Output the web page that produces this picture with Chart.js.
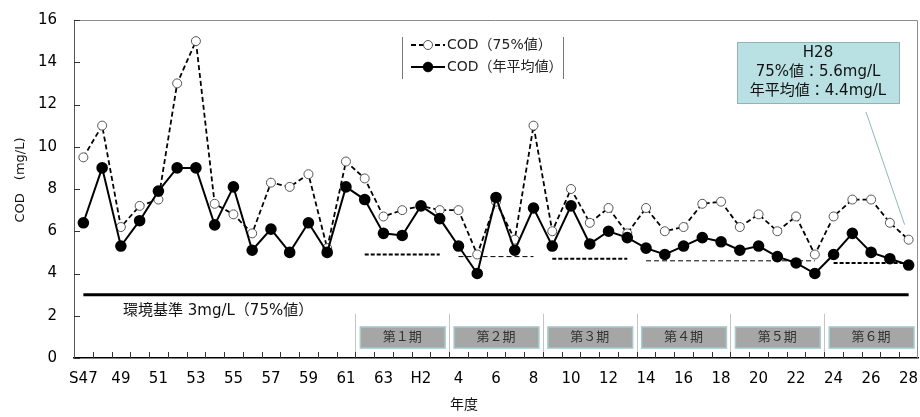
<!DOCTYPE html>
<html>
<head>
<meta charset="utf-8">
<script src="https://cdn.jsdelivr.net/npm/chart.js@4/dist/chart.umd.min.js"></script>
<style>
  body { margin: 0; background: #fff; }
</style>
</head>
<body>
<canvas id="myGraph" width="920" height="417"></canvas>
<script>
// COD推移 S47〜H28

var years = ["S47", "48", "49", "50", "51", "52", "53", "54", "55", "56", "57", "58", "59", "60", "61", "62", "63",
  "H1", "H2", "3", "4", "5", "6", "7", "8", "9", "10", "11", "12", "13", "14", "15", "16", "17", "18", "19", "20",
  "21", "22", "23", "24", "25", "26", "27", "28"];

var cod75 = [9.5, 11.0, 6.2, 7.2, 7.5, 13.0, 15.0, 7.3, 6.8, 5.9, 8.3, 8.1, 8.7, 5.2, 9.3, 8.5, 6.7,
  7.0, 7.2, 7.0, 7.0, 4.9, 7.4, 5.6, 11.0, 6.0, 8.0, 6.4, 7.1, 5.9, 7.1, 6.0, 6.2, 7.3, 7.4, 6.2, 6.8,
  6.0, 6.7, 4.9, 6.7, 7.5, 7.5, 6.4, 5.6];

var codMean = [6.4, 9.0, 5.3, 6.5, 7.9, 9.0, 9.0, 6.3, 8.1, 5.1, 6.1, 5.0, 6.4, 5.0, 8.1, 7.5, 5.9,
  5.8, 7.2, 6.6, 5.3, 4.0, 7.6, 5.1, 7.1, 5.3, 7.2, 5.4, 6.0, 5.7, 5.2, 4.9, 5.3, 5.7, 5.5, 5.1, 5.3,
  4.8, 4.5, 4.0, 4.9, 5.9, 5.0, 4.7, 4.4];

var envStandard = 3;

// 計画期間
var periodNames = ["第１期", "第２期", "第３期", "第４期", "第５期", "第６期"];
var periodStart = [15, 20, 25, 30, 35, 40];
var periodEnd = [19, 24, 29, 34, 39, 44];

// 目標値（破線）
var targetFrom = [15, 20, 25, 30, 40];
var targetTo = [19, 24, 29, 39, 44];
var targetValue = [4.9, 4.8, 4.7, 4.6, 4.5];
var targetThick = [true, false, true, false, true];

var yTicks = [0, 2, 4, 6, 8, 10, 12, 14, 16];

var numFont = "DejaVu Sans, 'Noto Sans CJK JP', sans-serif";

var datasets = [
  {
    label: "COD（年平均値）",
    data: codMean,
    borderColor: "#000",
    borderWidth: 2,
    pointRadius: 4.8,
    pointBackgroundColor: "#000",
    pointBorderColor: "#000",
    tension: 0
  },
  {
    label: "COD（75%値）",
    data: cod75,
    borderColor: "#000",
    borderWidth: 1.8,
    borderDash: [5, 3],
    pointRadius: 4.5,
    pointBackgroundColor: "#fff",
    pointBorderColor: "#555",
    pointBorderWidth: 1,
    tension: 0
  },
  {
    label: "env",
    data: years.map(function () { return envStandard; }),
    borderColor: "#000",
    borderWidth: 3,
    pointRadius: 0
  }
];

for (var t = 0; t < targetValue.length; t++) {
  var d = years.map(function (y, i) {
    return (i >= targetFrom[t] && i <= targetTo[t]) ? targetValue[t] : null;
  });
  datasets.push({
    label: "target" + t,
    data: d,
    borderColor: "#000",
    borderWidth: targetThick[t] ? 2 : 1,
    borderDash: targetThick[t] ? [4, 2] : [5, 3],
    pointRadius: 0,
    spanGaps: false
  });
}

var extras = {
  id: "extras",
  beforeDatasetsDraw: function (chart) {
    var ctx = chart.ctx;
    var x = chart.scales.x, y = chart.scales.y;
    var half = (x.getPixelForValue(1) - x.getPixelForValue(0)) / 2;
    ctx.save();
    // 期間の区切り線とラベル
    for (var p = 0; p < periodNames.length; p++) {
      var left = x.getPixelForValue(periodStart[p]) - half;
      var right = Math.min(x.getPixelForValue(periodEnd[p]) + half, chart.chartArea.right);
      ctx.strokeStyle = "#c4c4c4";
      ctx.lineWidth = 1;
      ctx.beginPath();
      ctx.moveTo(Math.round(left) + 0.5, y.getPixelForValue(2.1));
      ctx.lineTo(Math.round(left) + 0.5, y.bottom);
      ctx.stroke();
      var top = y.getPixelForValue(1.47), bot = y.getPixelForValue(0.47);
      ctx.fillStyle = "#a6a6a6";
      ctx.fillRect(left + 5, top, right - left - 9, bot - top);
      ctx.strokeStyle = "#a3cbd0";
      ctx.lineWidth = 1.5;
      ctx.strokeRect(left + 5, top, right - left - 9, bot - top);
      ctx.fillStyle = "#333";
      ctx.font = "13px " + numFont;
      ctx.textAlign = "center";
      ctx.textBaseline = "middle";
      ctx.fillText(periodNames[p], (left + right) / 2, (top + bot) / 2);
    }
    // 環境基準ラベル
    ctx.fillStyle = "#111";
    ctx.font = "15px " + numFont;
    ctx.textAlign = "left";
    ctx.fillText("環境基準 3mg/L（75%値）", 123, y.getPixelForValue(2.2));
    ctx.restore();
  },
  afterDraw: function (chart) {
    var ctx = chart.ctx;
    var x = chart.scales.x, y = chart.scales.y;
    var a = chart.chartArea;
    var half = (x.getPixelForValue(1) - x.getPixelForValue(0)) / 2;
    ctx.save();
    // 上・右の枠
    ctx.strokeStyle = "#8c8c8c";
    ctx.lineWidth = 1;
    ctx.beginPath();
    ctx.moveTo(a.left, a.top + 0.5);
    ctx.lineTo(a.right - 0.5, a.top + 0.5);
    ctx.lineTo(a.right - 0.5, a.bottom);
    ctx.stroke();
    // 内向き目盛
    ctx.strokeStyle = "#333";
    ctx.beginPath();
    yTicks.forEach(function (v) {
      var py = Math.round(y.getPixelForValue(v)) + 0.5;
      ctx.moveTo(a.left, py);
      ctx.lineTo(a.left + 6, py);
    });
    for (var i = 0; i < years.length - 1; i++) {
      var px = Math.round(x.getPixelForValue(i) + half) + 0.5;
      ctx.moveTo(px, a.bottom);
      ctx.lineTo(px, a.bottom - 6);
    }
    ctx.stroke();

    // 凡例
    ctx.strokeStyle = "#777";
    ctx.lineWidth = 1;
    ctx.beginPath();
    ctx.moveTo(402.5, 37); ctx.lineTo(402.5, 79);
    ctx.moveTo(563.5, 37); ctx.lineTo(563.5, 79);
    ctx.stroke();
    var rows = [{ ds: datasets[1], y: 45 }, { ds: datasets[0], y: 67 }];
    rows.forEach(function (r) {
      ctx.strokeStyle = "#000";
      ctx.lineWidth = r.ds.borderWidth;
      ctx.setLineDash(r.ds.borderDash || []);
      ctx.beginPath();
      ctx.moveTo(411, r.y);
      ctx.lineTo(445, r.y);
      ctx.stroke();
      ctx.setLineDash([]);
      ctx.beginPath();
      ctx.arc(428, r.y, r.ds.pointRadius, 0, Math.PI * 2);
      ctx.fillStyle = r.ds.pointBackgroundColor;
      ctx.fill();
      ctx.lineWidth = 1;
      ctx.strokeStyle = r.ds.pointBorderColor;
      ctx.stroke();
      ctx.fillStyle = "#222";
      ctx.font = "14px " + numFont;
      ctx.textAlign = "left";
      ctx.textBaseline = "middle";
      ctx.fillText(r.ds.label, 447, r.y);
    });

    // H28 注記
    var last = years.length - 1;
    ctx.strokeStyle = "#8fb7bb";
    ctx.lineWidth = 1;
    ctx.beginPath();
    ctx.moveTo(866, 112);
    ctx.lineTo(x.getPixelForValue(last) - 4, y.getPixelForValue(cod75[last]) - 15);
    ctx.stroke();
    ctx.fillStyle = "#b9e0e3";
    ctx.fillRect(737, 42, 162, 61);
    ctx.strokeStyle = "#8fb3b7";
    ctx.strokeRect(737.5, 42.5, 162, 61);
    ctx.fillStyle = "#111";
    ctx.font = "15px " + numFont;
    ctx.textAlign = "center";
    ctx.textBaseline = "middle";
    ctx.fillText("H" + years[last], 818, 53);
    ctx.fillText("75%値：" + cod75[last].toFixed(1) + "mg/L", 818, 72);
    ctx.fillText("年平均値：" + codMean[last].toFixed(1) + "mg/L", 818, 91);

    // 軸タイトル
    ctx.font = "14px " + numFont;
    ctx.fillText("年度", 464, 405);
    ctx.translate(21, 180);
    ctx.rotate(-Math.PI / 2);
    ctx.font = "13px " + numFont;
    ctx.fillText("COD　(mg/L)", 0, 0);
    ctx.restore();
  }
};

new Chart(document.getElementById("myGraph").getContext("2d"), {
  type: "line",
  data: {
    labels: years,
    datasets: datasets
  },
  options: {
    responsive: false,
    animation: false,
    layout: { autoPadding: false, padding: { top: 20, right: 2, left: 0, bottom: 0 } },
    plugins: {
      legend: { display: false },
      tooltip: { enabled: false }
    },
    scales: {
      x: {
        offset: true,
        grid: { display: false, drawTicks: false },
        border: { color: "#000", width: 1.5 },
        ticks: {
          autoSkip: false,
          maxRotation: 0,
          padding: 12,
          color: "#000",
          font: { size: 15, family: numFont },
          callback: function (v, i) { return i % 2 === 0 ? years[i] : ""; }
        },
        afterFit: function (s) { s.height = 59; s.paddingLeft = 0; s.paddingRight = 0; }
      },
      y: {
        min: 0,
        max: 16,
        grid: { display: false, drawTicks: false },
        border: { color: "#555", width: 1 },
        ticks: {
          stepSize: 2,
          padding: 17,
          color: "#000",
          font: { size: 15, family: numFont }
        },
        afterFit: function (s) { s.width = 74; s.paddingTop = 0; s.paddingBottom = 0; }
      }
    }
  },
  plugins: [extras]
});
</script>
</body>
</html>
